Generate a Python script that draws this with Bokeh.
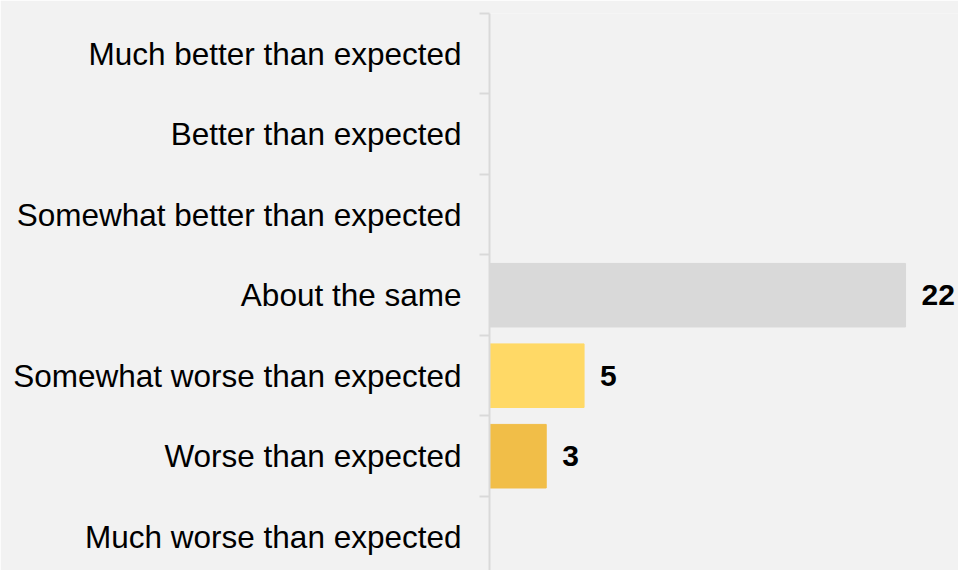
from bokeh.plotting import figure
from bokeh.models import Range1d, FixedTicker, ColumnDataSource
from bokeh.core.properties import value
from bokeh.embed import file_html
from bokeh.resources import INLINE

categories = ["Much better than expected", "Better than expected", "Somewhat better than expected",
              "About the same", "Somewhat worse than expected", "Worse than expected",
              "Much worse than expected"]
counts = [0, 0, 0, 22, 5, 3, 0]
colors = ["#d9d9d9", "#d9d9d9", "#d9d9d9", "#d9d9d9", "#ffd966", "#f1be48", "#f1be48"]

n = len(categories)
ypos = [n - 0.5 - i for i in range(n)]
shown = [i for i in range(n) if counts[i] > 0]

bars = ColumnDataSource(dict(y=[ypos[i] for i in shown], v=[counts[i] for i in shown],
                             c=[colors[i] for i in shown], t=[str(counts[i]) for i in shown]))

BG = "#f2f2f2"
p = figure(width=958, height=570, output_backend="svg", toolbar_location=None,
           x_range=Range1d(0, 24.8), y_range=Range1d(0.08, n),
           min_border_left=489, min_border_right=0, min_border_top=13, min_border_bottom=0)
p.background_fill_color = BG
p.border_fill_color = BG
p.outline_line_color = None
p.grid.visible = False
p.xaxis.visible = False

p.hbar(y="y", right="v", left=0, height=0.79, color="c", source=bars)
p.text(x="v", y="y", text="t", source=bars, x_offset=16, text_baseline="middle",
       text_font=value("Liberation Sans"), text_font_style="bold", text_font_size="30px",
       text_color="#000000")

ax = p.yaxis[0]
ax.ticker = FixedTicker(ticks=ypos, minor_ticks=list(range(n + 1)))
ax.major_label_overrides = {y: c for y, c in zip(ypos, categories)}
ax.major_tick_out = 0
ax.major_tick_in = 0
ax.minor_tick_out = 10
ax.minor_tick_in = 0
ax.minor_tick_line_color = "#d9d9d9"
ax.minor_tick_line_width = 2
ax.axis_line_color = "#d9d9d9"
ax.axis_line_width = 2
ax.major_label_standoff = 18
ax.major_label_text_font = "Liberation Sans"
ax.major_label_text_font_size = "31.5px"
ax.major_label_text_color = "#000000"

html = file_html(p, INLINE)
html = html.replace("<body>", '<body style="background:%s">' % BG, 1)
open("out.html", "w").write(html)
